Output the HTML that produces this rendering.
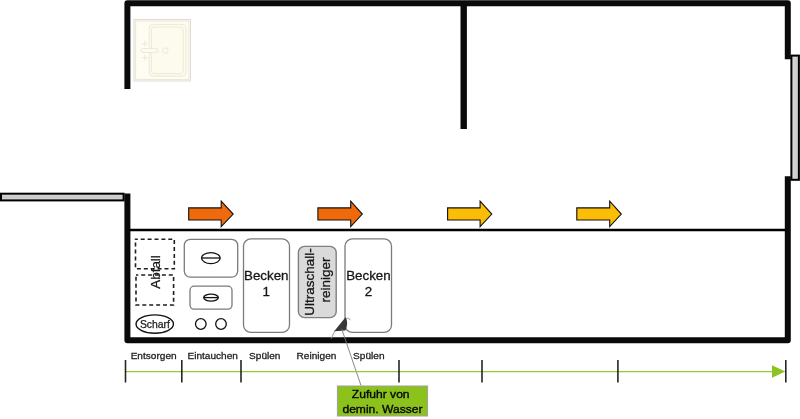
<!DOCTYPE html>
<html><head><meta charset="utf-8">
<style>
html,body{margin:0;padding:0;background:#fff;width:800px;height:419px;overflow:hidden}
svg{display:block;will-change:transform}
text{font-family:"Liberation Sans",sans-serif}
</style></head>
<body>
<svg width="800" height="419" viewBox="0 0 800 419">
<defs>
  <linearGradient id="gw" x1="0" y1="0" x2="1" y2="0">
    <stop offset="0" stop-color="#dcdcdc"/><stop offset="0.5" stop-color="#d2d2d4"/><stop offset="1" stop-color="#c6c6ca"/>
  </linearGradient>
  <linearGradient id="gh" x1="0" y1="0" x2="0" y2="1">
    <stop offset="0" stop-color="#dedede"/><stop offset="0.5" stop-color="#c8c8c8"/><stop offset="1" stop-color="#dadada"/>
  </linearGradient>
</defs>
<!-- sink -->
<rect x="134" y="19.5" width="56.5" height="61.5" fill="#fefcf3" stroke="#dcdad0" stroke-width="0.9"/>
<g stroke="#ebe6d5" fill="none" stroke-width="0.9">
  <rect x="135.6" y="21" width="53.3" height="58.5"/>
  <rect x="149.2" y="24.4" width="36.8" height="51.8" rx="4" fill="#fdfaee"/>
  <rect x="151.4" y="27" width="31.8" height="46.6" rx="3"/>
  <rect x="141" y="48.5" width="17" height="4" rx="2" fill="#fdfaee"/>
  <circle cx="165.4" cy="50.6" r="2.8"/>
  <path d="M141.8 43.7h6M144.8 40.7v6M141.8 57.6h6M144.8 54.6v6"/>
</g>
<!-- walls -->
<g fill="none" stroke="#0a0a0a" stroke-width="6" stroke-linejoin="round">
  <path d="M127.4 89V3.3H787.8V59.3"/>
  <path d="M787.8 176.2V340.3H127.4V193.6"/>
</g>
<path d="M463.7 3V129" stroke="#0a0a0a" stroke-width="6.4" fill="none"/>
<path d="M130 230H786" stroke="#000" stroke-width="2.4"/>
<!-- windows -->
<rect x="791.4" y="55.6" width="7.5" height="124.2" fill="url(#gw)" stroke="#000" stroke-width="2"/>
<rect x="1" y="193.7" width="122.6" height="6.7" fill="url(#gh)" stroke="#000" stroke-width="2"/>
<!-- arrows -->
<g stroke="#111" stroke-width="1.1" stroke-linejoin="miter">
  <path fill="#ef6a0c" d="M188.7 207.9H221.2V201.1L233.2 214.1L221.2 226.6V220H188.7Z"/>
  <path fill="#ef6a0c" d="M317.9 207.9H350.7V201.1L362.3 214.1L350.7 226.6V220H317.9Z"/>
  <path fill="#fbbd06" d="M447.6 207.9H480.1V201.1L491.8 214.1L480.1 226.6V220H447.6Z"/>
  <path fill="#fbbd06" d="M576.8 207.9H609.7V201.1L621.3 214.1L609.7 226.6V220H576.8Z"/>
</g>
<!-- Abfall dashed boxes -->
<g fill="none" stroke="#1e1e1e" stroke-width="1.6" stroke-dasharray="4 2.9" stroke-dashoffset="1.7">
  <path d="M135.5 239.2H174.3V268.8H135.5Z"/>
  <path d="M136 275H173.6V305H136Z"/>
</g>
<text transform="translate(159.6 288.7) rotate(-90)" font-size="13.4" fill="#1a1a1a" stroke="#1a1a1a" stroke-width="0.25">Abfall</text>
<!-- Scharf -->
<ellipse cx="154.75" cy="324.1" rx="18.7" ry="9.2" fill="none" stroke="#111" stroke-width="1.4"/>
<text x="154.9" y="327.5" font-size="10.4" fill="#1a1a1a" stroke="#1a1a1a" stroke-width="0.25" text-anchor="middle">Scharf</text>
<!-- boxes -->
<g fill="none" stroke="#7b7b7b" stroke-width="1.3">
  <rect x="184.3" y="239.3" width="53.4" height="37.8" rx="6"/>
  <rect x="190" y="286.2" width="42" height="22.9" rx="4"/>
  <rect x="243.5" y="238.8" width="46" height="93.6" rx="7.5"/>
  <rect x="345" y="238.8" width="46.5" height="93.6" rx="7.5"/>
</g>
<rect x="298.4" y="246.4" width="37.8" height="71.2" rx="6" fill="#dadada" stroke="#808080" stroke-width="1.4"/>
<g fill="none" stroke="#111" stroke-width="1.3">
  <ellipse cx="210.85" cy="258.1" rx="9.3" ry="5.5"/>
  <path d="M201.5 258H220.2"/>
  <ellipse cx="211" cy="297.6" rx="7.3" ry="3.5"/>
  <path d="M203.7 297.6H218.3"/>
  <circle cx="200.8" cy="324" r="5.3"/>
  <circle cx="221" cy="324" r="5.3"/>
</g>
<g font-size="13.35" fill="#151515" stroke="#151515" stroke-width="0.3" text-anchor="middle">
  <text x="266.3" y="279.7">Becken</text>
  <text x="266.3" y="295.5">1</text>
  <text x="368.4" y="279.7">Becken</text>
  <text x="368.4" y="295.5">2</text>
</g>
<g font-size="13.5" fill="#151515" stroke="#151515" stroke-width="0.3" text-anchor="middle" transform="translate(317.2 281.7) rotate(-90)">
  <text x="-0.3" y="-3.2">Ultraschall-</text>
  <text x="1.8" y="12.7">reiniger</text>
</g>
<!-- nozzle -->
<path d="M346.2 318.3C348.2 318.3 349.8 319 350.5 320.2" fill="none" stroke="#8a8a8a" stroke-width="0.9"/>
<path d="M335 330.5L331.2 338.5" stroke="#9a9a9a" stroke-width="1"/>
<path d="M345.5 317.2L334.2 331.2L345.4 330.4C346.9 327.3 347.4 324.2 347 321.2C346.8 319.6 346.3 318.2 345.5 317.2Z" fill="#383838"/>
<path d="M341.7 328.9L361 385.5" stroke="#7a7a7a" stroke-width="0.9"/>
<!-- timeline -->
<path d="M125.5 371.6H773" stroke="#98c838" stroke-width="1.3"/>
<path d="M772 365.3L785.3 371.5L772 377.7Z" fill="#8cc31f"/>
<g stroke="#262626" stroke-width="1.6">
  <path d="M125.5 360V382.6M181.8 360V382.6M241 360V382.6M399 360V382.6M482 360V382.6M617.9 360V382.6M785.8 360V382.6"/>
</g>
<g font-size="10.1" fill="#222" stroke="#222" stroke-width="0.3" text-anchor="middle" transform="translate(0 358.9) scale(1 0.93) translate(0 -358.9)">
  <text x="153.65" y="358.9">Entsorgen</text>
  <text x="212.7" y="358.9">Eintauchen</text>
  <text x="264.75" y="358.9">Spülen</text>
  <text x="316.5" y="358.9">Reinigen</text>
  <text x="368.85" y="358.9">Spülen</text>
</g>
<!-- note -->
<rect x="337.4" y="386" width="90.2" height="30" fill="#8cc21c" stroke="#a0a0a0" stroke-width="1"/>
<g font-size="12.1" fill="#080808" stroke="#080808" stroke-width="0.4" text-anchor="middle">
  <text x="380.7" y="0" transform="translate(0 398.3) scale(1 0.92)">Zufuhr von</text>
  <text x="382.5" y="0" transform="translate(0 412.5) scale(1 0.92)">demin. Wasser</text>
</g>
</svg>
</body></html>
